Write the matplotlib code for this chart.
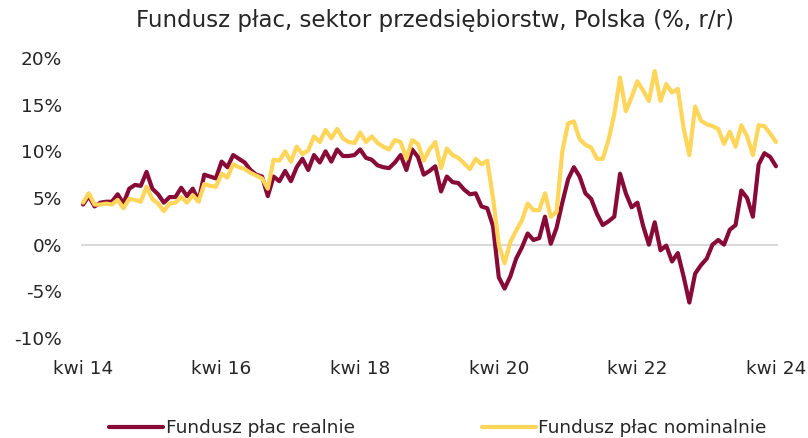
import matplotlib
matplotlib.use("Agg")
import matplotlib.pyplot as plt
import numpy as np

# Monthly data, kwi 2014 .. kwi 2024
realnie = [
    4.3, 5.2, 4.1, 4.5, 4.6, 4.6, 5.4, 4.4, 6.0, 6.4,   # 0-9
    6.3, 7.8, 6.0, 5.4, 4.5, 5.1, 5.1, 6.1, 5.2, 6.0,   # 10-19
    4.7, 7.5, 7.3, 7.1, 8.9, 8.3, 9.6, 9.2, 8.8, 8.0,   # 20-29
    7.5, 7.3, 5.2, 7.3, 6.8, 7.9, 6.8, 8.3, 9.2, 8.0,   # 30-39
    9.6, 8.8, 10.0, 8.9, 10.2, 9.5, 9.5, 9.6, 10.2, 9.3,  # 40-49
    9.1, 8.5, 8.3, 8.2, 8.8, 9.6, 8.0, 10.2, 9.4, 7.5,  # 50-59
    7.9, 8.4, 5.7, 7.3, 6.7, 6.6, 5.9, 5.4, 5.5, 4.1,   # 60-69
    3.9, 2.0, -3.5, -4.7, -3.4, -1.5, -0.3, 1.2, 0.5, 0.7,  # 70-79
    3.0, 0.1, 1.8, 4.5, 7.0, 8.3, 7.3, 5.5, 4.9, 3.3,   # 80-89
    2.1, 2.5, 3.0, 7.6, 5.5, 4.0, 4.5, 2.0, 0.0, 2.4,   # 90-99
    -0.6, -0.1, -1.8, -0.9, -3.4, -6.2, -3.1, -2.2, -1.5, 0.0,  # 100-109
    0.5, 0.0, 1.6, 2.1, 5.8, 5.0, 3.0, 8.6, 9.8, 9.4,   # 110-119
    8.4,                                                # 120
]
nominalnie = [
    4.5, 5.5, 4.3, 4.3, 4.4, 4.3, 4.8, 3.9, 4.9, 4.8,
    4.6, 6.2, 4.9, 4.4, 3.6, 4.4, 4.5, 5.1, 4.5, 5.3,
    4.6, 6.5, 6.3, 6.2, 7.6, 7.2, 8.6, 8.3, 8.1, 7.7,
    7.4, 7.1, 6.0, 9.1, 9.0, 10.0, 8.9, 10.5, 9.7, 10.1,
    11.6, 11.0, 12.3, 11.4, 12.4, 11.4, 11.0, 10.9, 12.0, 11.0,
    11.6, 10.9, 10.5, 10.2, 11.2, 11.0, 9.2, 11.2, 10.8, 9.0,
    10.2, 11.0, 8.2, 10.3, 9.6, 9.3, 8.7, 8.1, 9.2, 8.6,
    9.0, 5.0, 0.0, -2.0, 0.3, 1.5, 2.6, 4.4, 3.7, 3.7,
    5.5, 3.0, 3.5, 10.0, 13.0, 13.2, 11.3, 10.7, 10.4, 9.2,
    9.2, 11.2, 14.0, 17.9, 14.3, 15.8, 17.5, 16.5, 15.4, 18.6,
    15.4, 17.2, 16.3, 16.7, 12.5, 9.6, 14.8, 13.3, 12.9, 12.7,
    12.4, 10.8, 12.1, 10.5, 12.8, 11.6, 9.6, 12.8, 12.7, 11.9,
    11.0,
]
tick_labels = ["kwi 14", "kwi 16", "kwi 18", "kwi 20", "kwi 22", "kwi 24"]
tick_months = [0, 24, 48, 72, 96, 120]
y_ticks = [-10, -5, 0, 5, 10, 15, 20]

title = "Fundusz płac, sektor przedsiębiorstw, Polska (%, r/r)"
label_real = "Fundusz płac realnie"
label_nom = "Fundusz płac nominalnie"

c_real = "#870A37"
c_nom = "#FFD55A"
txt = "#262626"

plt.rcParams['font.family'] = ['DejaVu Sans']

W, H = 808, 438
fig = plt.figure(figsize=(W / 100, H / 100), dpi=100)
left, right = 81 / W, 778 / W
bottom, top = 1 - 338 / H, 1 - 58 / H
ax = fig.add_axes([left, bottom, right - left, top - bottom])

x = np.arange(len(realnie))
ax.axhline(0, color="#D9D9D9", lw=1.5, zorder=1)
l1, = ax.plot(x, realnie, color=c_real, lw=3.0, solid_joinstyle="round",
              solid_capstyle="round", zorder=3, label=label_real)
l2, = ax.plot(x, nominalnie, color=c_nom, lw=3.0, solid_joinstyle="round",
              solid_capstyle="round", zorder=4, label=label_nom)

ax.set_xlim(-0.35, 120.35)
ax.set_ylim(-10, 20)
ax.set_xticks(tick_months)
ax.set_xticklabels(tick_labels)
ax.set_yticks(y_ticks)
ax.set_yticklabels([f"{v}%" for v in y_ticks])
for s in ax.spines.values():
    s.set_visible(False)
ax.tick_params(axis="both", length=0, labelsize=13.3, colors=txt)
ax.tick_params(axis="y", pad=13.5)
ax.tick_params(axis="x", pad=16)

fig.text(434.5 / W, 1 - 21 / H, title, ha="center",
         va="center", fontsize=16.5, color=txt)

fig.legend(handles=[l1, l2], loc="center",
           bbox_to_anchor=(438 / W, 1 - 428 / H), ncol=2, frameon=False,
           fontsize=13.3, handlelength=2.9, handletextpad=0.15,
           columnspacing=6.9, labelcolor=txt)

fig.savefig("out.png", dpi=100)
